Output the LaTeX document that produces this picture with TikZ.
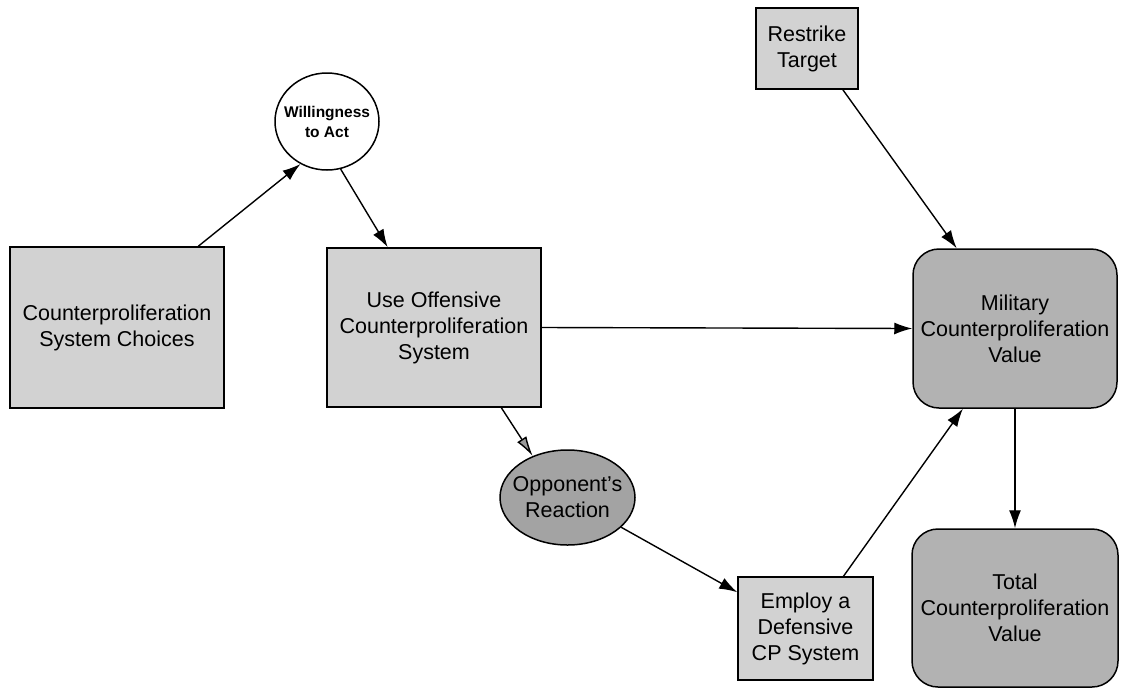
\documentclass[tikz,border=0pt]{standalone}
\usepackage{fontspec}
\setmainfont{Liberation Sans}
\usetikzlibrary{positioning,shapes.geometric,arrows.meta}

\begin{document}
\begin{tikzpicture}[x=1pt,y=-1pt,
box/.style={draw,line width=1.5pt,fill=gray!35,align=center,inner sep=0pt,
font=\fontsize{21.5}{26}\selectfont},
valbox/.style={box,rounded corners=26pt,fill=gray!60},
chance/.style={ellipse,draw,line width=1.5pt,align=center,inner xsep=-12pt,inner ysep=-7pt,
font=\fontsize{21.5}{26}\selectfont},
link/.style={line width=1.4pt,-{Latex[length=18pt,width=12pt]}},
hatchlink/.style={line width=1.4pt,-{Latex[length=20pt,width=11pt,fill=gray!80]}}]

\useasboundingbox (0,0) rectangle (1122,689);

% decisions
\node[box,minimum width=214pt,minimum height=161pt] (choices) at (117,327.5)
{Counterproliferation\\System Choices};
\node[box,minimum width=214pt,minimum height=159pt] (useoff) at (434,327.5)
{Use Offensive\\Counterproliferation\\System};
\node[box,minimum width=135pt,minimum height=103pt] (employ) at (805.5,628.5)
{Employ a\\Defensive\\CP System};
\node[box,minimum width=102pt,minimum height=81pt] (restrike) at (807,48.5)
{Restrike\\Target};

% chance nodes
\node[chance,fill=white,minimum width=104pt,minimum height=97pt,
font=\bfseries\fontsize{15.5}{20}\selectfont] (will) at (327,121.5)
{Willingness\\to Act};
\node[chance,fill=gray!72,minimum width=135pt,minimum height=95pt] (opp) at (567.5,497.5)
{Opponent's\\Reaction};

% values
\node[valbox,minimum width=204pt,minimum height=159pt] (milval) at (1015,328.5)
{Military\\Counterproliferation\\Value};
\node[valbox,minimum width=206pt,minimum height=158pt] (totval) at (1015,608)
{Total\\Counterproliferation\\Value};

% influences
\draw[link] (choices.45) -- (will.238);
\draw[link] (will.286) -- (useoff.120);
\draw[link] (useoff.east) -- (milval.west);
\draw[hatchlink] (useoff.-50) -- (opp.130);
\draw[link] (opp.-29) -- (employ.152);
\draw[link] (employ.54) -- (milval.237);
\draw[link] (restrike.-49) -- (milval.126);
\draw[link] (milval.south) -- (totval.north);
\end{tikzpicture}
\end{document}
